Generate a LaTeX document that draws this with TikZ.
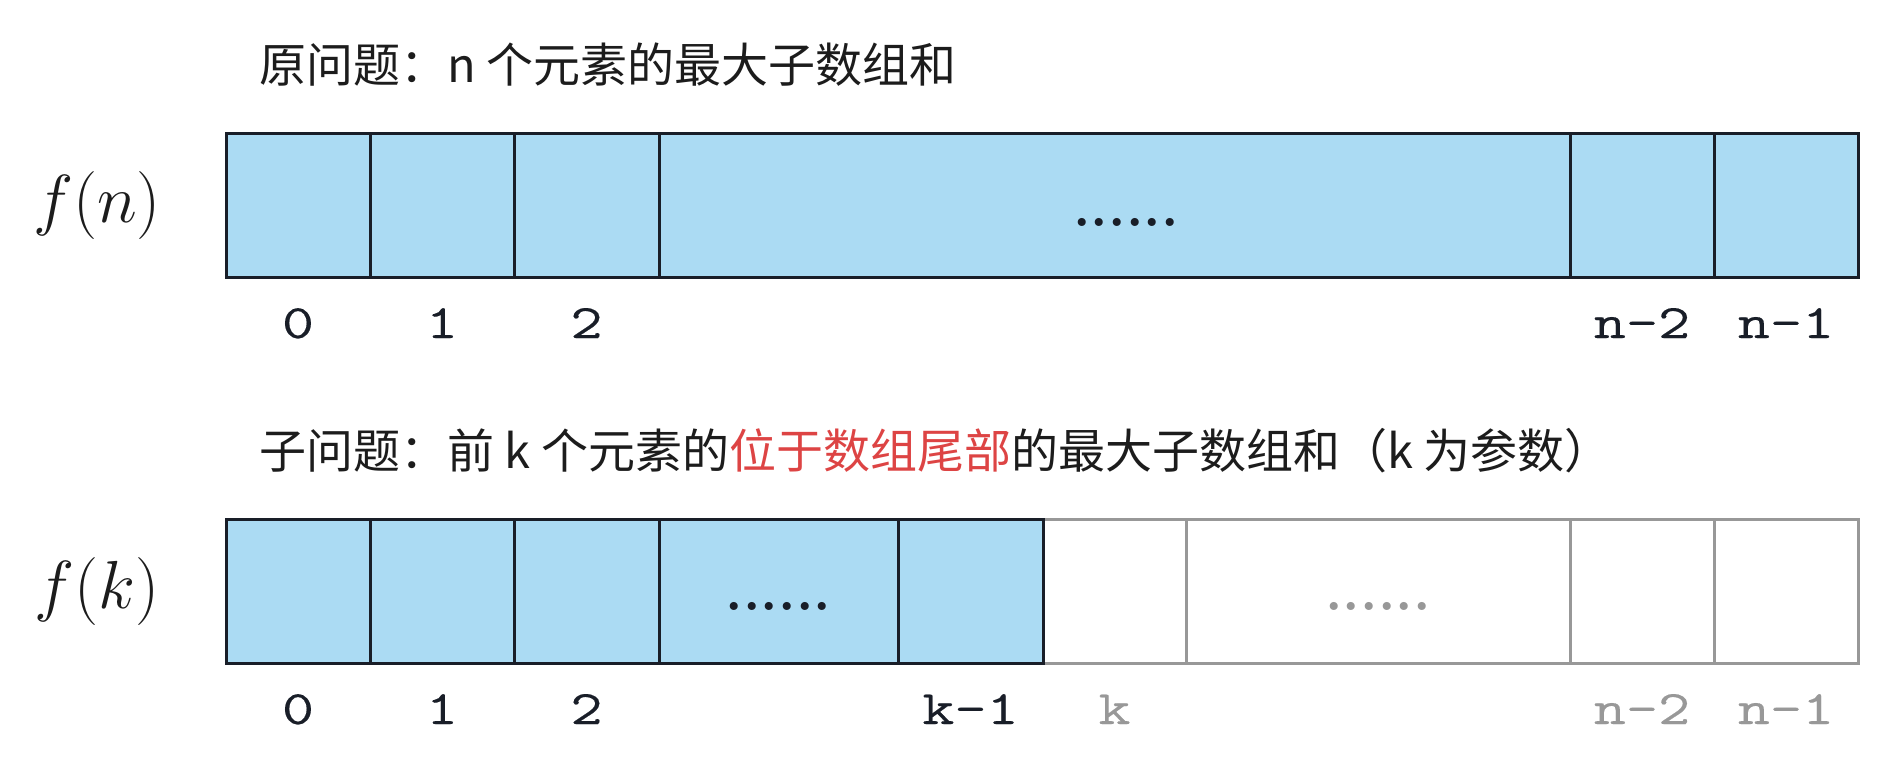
\RequirePackage{fix-cm}
\documentclass[tikz,border=0pt]{standalone}
\usepackage{fontspec}
\newfontfamily\cjkfont{Noto Sans CJK SC}
\newfontfamily\lblfont[FakeStretch=1.3,FakeBold=0.3]{Latin Modern Mono}
\definecolor{cellblue}{RGB}{171,219,243}
\definecolor{edgedark}{RGB}{25,30,40}
\definecolor{edgegray}{RGB}{152,152,152}
\definecolor{txtdark}{RGB}{28,28,28}
\definecolor{accentred}{RGB}{221,68,68}
\begin{document}
\begin{tikzpicture}[x=0.5pt,y=-0.5pt,
  bluecell/.style={draw=edgedark,fill=cellblue,line width=1.5pt,inner sep=0pt,minimum height=72pt},
  graycell/.style={draw=edgegray,fill=white,line width=1.5pt,inner sep=0pt,minimum height=72pt},
  idx/.style={font=\lblfont\fontsize{24}{28}\selectfont,anchor=base,inner sep=0pt,text=edgedark},
  idxgray/.style={idx,text=edgegray},
  dotsl/.style={font=\bfseries\fontsize{28}{32}\selectfont,anchor=base,inner sep=0pt,text=edgedark},
  title/.style={font=\cjkfont\fontsize{23.5}{28}\selectfont,anchor=base west,inner sep=0pt,text=txtdark},
  fname/.style={font=\fontsize{34}{40}\selectfont,inner sep=0pt,text=txtdark}]
\useasboundingbox (0,0) rectangle (1896,776);

% ---------- top: original problem ----------
\node[title] (t1) at (259,82) {原问题：n 个元素的最大子数组和};
\node[fname] (fn) at (97,205) {$f(n)$};

\node[bluecell,minimum width=72pt]    (a0) at (298,205) {};
\node[bluecell,minimum width=72pt]    (a1) at (442,205) {};
\node[bluecell,minimum width=72.5pt]  (a2) at (586.5,205) {};
\node[bluecell,minimum width=455.5pt] (am) at (1114.5,205) {};
\node[bluecell,minimum width=72pt]    (an2) at (1642,205) {};
\node[bluecell,minimum width=72pt]    (an1) at (1786,205) {};
\node[dotsl] (adots) at (1126,226) {......};

\node[idx] (la0) at (298,338) {0};
\node[idx] (la1) at (442,338) {1};
\node[idx] (la2) at (586.5,338) {2};
\node[idx] (lan2) at (1642,338) {n-2};
\node[idx] (lan1) at (1786,338) {n-1};

% ---------- bottom: sub-problem ----------
\node[title] (t2) at (259,468) {子问题：前 k 个元素的\textcolor{accentred}{位于数组尾部}的最大子数组和（k 为参数）};
\node[fname] (fk) at (97,591) {$f(k)$};

\node[graycell,minimum width=71.5pt] (bk)  at (1114.5,591) {};
\node[graycell,minimum width=192pt]  (bm2) at (1378,591) {};
\node[graycell,minimum width=72pt]   (bn2) at (1642,591) {};
\node[graycell,minimum width=72pt]   (bn1) at (1786,591) {};

\node[bluecell,minimum width=72pt]    (b0) at (298,591) {};
\node[bluecell,minimum width=72pt]    (b1) at (442,591) {};
\node[bluecell,minimum width=72.5pt]  (b2) at (586.5,591) {};
\node[bluecell,minimum width=119.5pt] (bm) at (778.5,591) {};
\node[bluecell,minimum width=72.5pt]  (bk1) at (970.5,591) {};

\node[dotsl] (bdots) at (778.5,610) {......};
\node[dotsl,text=edgegray] (bdots2) at (1378,610) {......};

\node[idx] (lb0) at (298,724) {0};
\node[idx] (lb1) at (442,724) {1};
\node[idx] (lb2) at (586.5,724) {2};
\node[idx] (lbk1) at (970.5,724) {k-1};
\node[idxgray] (lbk) at (1114.5,724) {k};
\node[idxgray] (lbn2) at (1642,724) {n-2};
\node[idxgray] (lbn1) at (1786,724) {n-1};
\end{tikzpicture}
\end{document}
